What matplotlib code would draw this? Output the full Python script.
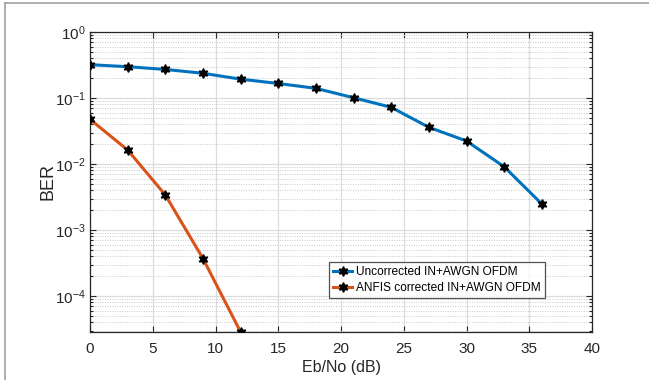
import matplotlib
matplotlib.use("Agg")
import matplotlib.pyplot as plt
from matplotlib.ticker import LogLocator, NullFormatter, FixedLocator
from matplotlib.lines import Line2D

plt.rcParams['font.family'] = ['Liberation Sans', 'DejaVu Sans']
plt.rcParams['mathtext.fontset'] = 'custom'
plt.rcParams['mathtext.rm'] = 'Liberation Sans'
plt.rcParams['mathtext.it'] = 'Liberation Sans'

ebno_uncorr = [0, 3, 6, 9, 12, 15, 18, 21, 24, 27, 30, 33, 36]
ber_uncorr = [0.32, 0.298, 0.271, 0.237, 0.193, 0.166, 0.140, 0.101, 0.0723,
              0.036, 0.0223, 0.0091, 0.00248]
ebno_anfis = [0, 3, 6, 9, 12]
ber_anfis = [0.0475, 0.0163, 0.0034, 3.7e-4, 2.85e-5]

labels = ['Uncorrected IN+AWGN OFDM', 'ANFIS corrected IN+AWGN OFDM']
xticks = [0, 5, 10, 15, 20, 25, 30, 35, 40]

W, H = 649, 380
fig = plt.figure(figsize=(W / 100, H / 100), dpi=100)
ax = fig.add_axes([90 / W, (H - 332) / H, 502 / W, 300 / H])

hexagram = (6, 1, 0)
ax.semilogy(ebno_uncorr, ber_uncorr, color='#0072BD', lw=2.2, marker=hexagram,
            ms=7, mfc='black', mec='black', label=labels[0], zorder=3)
ax.semilogy(ebno_anfis, ber_anfis, color='#D95319', lw=2.2, marker=hexagram,
            ms=7, mfc='black', mec='black', label=labels[1], zorder=3)

ax.set_xlim(0, 40)
ax.set_ylim(2.85e-5, 1.0)
ax.set_xticks(xticks)
ax.set_xticklabels([str(t) for t in xticks])
ax.yaxis.set_major_locator(FixedLocator([1e-4, 1e-3, 1e-2, 1e-1, 1e0]))
ax.yaxis.set_minor_locator(LogLocator(base=10, subs=range(2, 10), numticks=20))
ax.yaxis.set_minor_formatter(NullFormatter())

ax.grid(True, which='major', color='#dcdcdc', lw=0.9, ls='-')
ax.grid(True, which='minor', axis='y', color='#c8c8c8', lw=0.7, ls=(0, (1, 1.5)))
ax.set_axisbelow(True)

ax.tick_params(which='both', direction='in', top=True, right=True,
               labelsize=11, colors='#262626', width=0.8)
ax.tick_params(which='major', length=4.5)
ax.tick_params(which='minor', length=2.5)
ax.tick_params(axis='x', pad=7)
ax.tick_params(axis='y', pad=3)
for s in ax.spines.values():
    s.set_color('#262626')
    s.set_linewidth(0.9)

ax.set_xlabel('Eb/No (dB)', fontsize=11.5, color='#262626', labelpad=3)
ax.set_ylabel('BER', fontsize=13, color='#262626')
ax.yaxis.set_label_coords(-0.066, 0.5)

leg = ax.legend(loc='lower left', bbox_to_anchor=(0.476, 0.113), fontsize=8.6,
                frameon=True, fancybox=False, edgecolor='#262626',
                handlelength=1.6, handletextpad=0.3, borderpad=0.35,
                labelspacing=0.35, borderaxespad=0)
leg.get_frame().set_linewidth(0.9)

# outer gray frame (top and left)
fig.add_artist(Line2D([5 / W, 1.0], [1 - 3 / H, 1 - 3 / H], color='#a0a0a0', lw=1.2,
                      transform=fig.transFigure))
fig.add_artist(Line2D([5 / W, 5 / W], [0, 1 - 3 / H], color='#a0a0a0', lw=1.2,
                      transform=fig.transFigure))

fig.savefig('out.png', dpi=100)
